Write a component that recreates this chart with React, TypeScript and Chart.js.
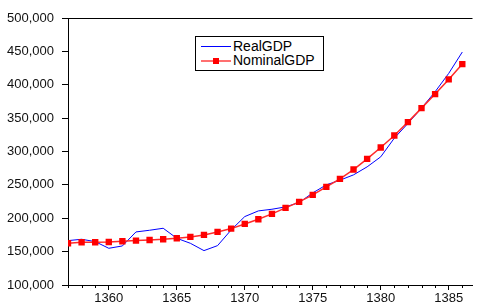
import React, { useEffect, useRef } from "react";
import { Chart, registerables } from "chart.js";

Chart.register(...registerables);

const years = [
  1357, 1358, 1359, 1360, 1361, 1362, 1363, 1364, 1365, 1366,
  1367, 1368, 1369, 1370, 1371, 1372, 1373, 1374, 1375, 1376,
  1377, 1378, 1379, 1380, 1381, 1382, 1383, 1384, 1385, 1386,
];

const realGDP = [
  166500, 168500, 165000, 155000, 158500, 179500, 182000, 185000, 170000, 162500,
  151500, 159000, 182500, 202500, 211000, 213500, 217000, 223500, 238000, 250000,
  257000, 265000, 277000, 292000, 320000, 342000, 365000, 389500, 417000, 449000,
];

const nominalGDP = [
  162500, 164000, 164000, 164500, 165500, 166500, 167500, 168500, 170000, 172000,
  175000, 179500, 184500, 191500, 198500, 206500, 215500, 224500, 235000, 247000,
  259000, 273000, 289000, 306000, 324000, 344000, 365000, 386000, 408000, 431000,
];

const xTickLabels = [1360, 1365, 1370, 1375, 1380, 1385];
const yTickValues = [100000, 150000, 200000, 250000, 300000, 350000, 400000, 450000, 500000];

const FONT = "'Liberation Sans', Arial, sans-serif";

const minorTicks = {
  id: "minorTicks",
  afterDraw(chart: any) {
    const x = chart.scales.x;
    const bottom = chart.chartArea.bottom;
    const ctx = chart.ctx;
    ctx.save();
    ctx.strokeStyle = "#000";
    ctx.lineWidth = 1;
    for (const yr of years) {
      if (xTickLabels.includes(yr)) continue;
      const px = Math.round(x.getPixelForValue(yr)) + 0.5;
      ctx.beginPath();
      ctx.moveTo(px, bottom);
      ctx.lineTo(px, bottom + 3);
      ctx.stroke();
    }
    ctx.restore();
  },
};

export default function App() {
  const ref = useRef<HTMLCanvasElement>(null);
  useEffect(() => {
    if (!ref.current) return;
    const chart = new Chart(ref.current, {
      type: "line",
      data: {
        labels: years,
        datasets: [
          {
            label: "NominalGDP",
            data: years.map((y, i) => ({ x: y, y: nominalGDP[i] })),
            borderColor: "#ff2a2a",
            borderWidth: 1.5,
            pointStyle: "rect",
            pointRadius: 4.5,
            pointBackgroundColor: "#ff0000",
            pointBorderColor: "#ff0000",
            pointBorderWidth: 0,
            tension: 0,
            order: 0,
          },
          {
            label: "RealGDP",
            data: years.map((y, i) => ({ x: y, y: realGDP[i] })),
            borderColor: "#0000ff",
            borderWidth: 1,
            pointRadius: 0,
            tension: 0,
            order: 1,
          },
        ],
      },
      options: {
        animation: false,
        responsive: false,
        layout: { padding: { top: 18, right: 0, left: 0, bottom: 0 } },
        plugins: { legend: { display: false }, tooltip: { enabled: false } },
        scales: {
          x: {
            type: "linear",
            min: 1357,
            max: 1386.75,
            afterBuildTicks: (scale: any) => {
              scale.ticks = xTickLabels.map((v) => ({ value: v }));
            },
            afterFit: (scale: any) => {
              scale.height = 20;
            },
            grid: {
              drawOnChartArea: false,
              drawTicks: true,
              tickLength: 5,
              tickColor: "#000",
            },
            border: { display: true, color: "#000", width: 1 },
            ticks: {
              color: "#111",
              font: { family: FONT, size: 13 },
              padding: 1,
              maxRotation: 0,
              autoSkip: false,
              callback: (v: any) => String(v),
            },
          },
          y: {
            min: 100000,
            max: 500000,
            afterBuildTicks: (scale: any) => {
              scale.ticks = yTickValues.map((v) => ({ value: v }));
            },
            afterFit: (scale: any) => {
              scale.width = 68;
            },
            grid: {
              drawOnChartArea: true,
              drawTicks: true,
              tickLength: 6,
              tickColor: "#000",
              color: (c: any) => (c.tick && c.tick.value === 500000 ? "#000" : "rgba(0,0,0,0)"),
            },
            border: { display: true, color: "#000", width: 1 },
            ticks: {
              color: "#111",
              font: { family: FONT, size: 13 },
              padding: 8,
              callback: (v: any) => Number(v).toLocaleString("en-US"),
            },
          },
        },
      },
      plugins: [minorTicks],
    } as any);
    return () => chart.destroy();
  }, []);

  return (
    <div style={{ position: "fixed", left: 0, top: 0, width: 477, height: 305, background: "#fff" }}>
      <canvas ref={ref} width={477} height={305} style={{ display: "block" }} />
      <div
        style={{
          position: "absolute",
          left: 195,
          top: 36,
          width: 127,
          height: 33,
          border: "1px solid #000",
          background: "#fff",
          fontFamily: FONT,
          fontSize: 14,
          color: "#000",
        }}
      >
        <div style={{ position: "absolute", left: 5, top: 9, width: 30, height: 1, background: "#0000ff" }} />
        <div style={{ position: "absolute", left: 37, top: 1, lineHeight: "17px" }}>RealGDP</div>
        <div style={{ position: "absolute", left: 5, top: 23, width: 30, height: 2, background: "#ff7070" }} />
        <div style={{ position: "absolute", left: 17, top: 21, width: 6, height: 6, background: "#ff0000" }} />
        <div style={{ position: "absolute", left: 37, top: 15, lineHeight: "17px" }}>NominalGDP</div>
      </div>
    </div>
  );
}
